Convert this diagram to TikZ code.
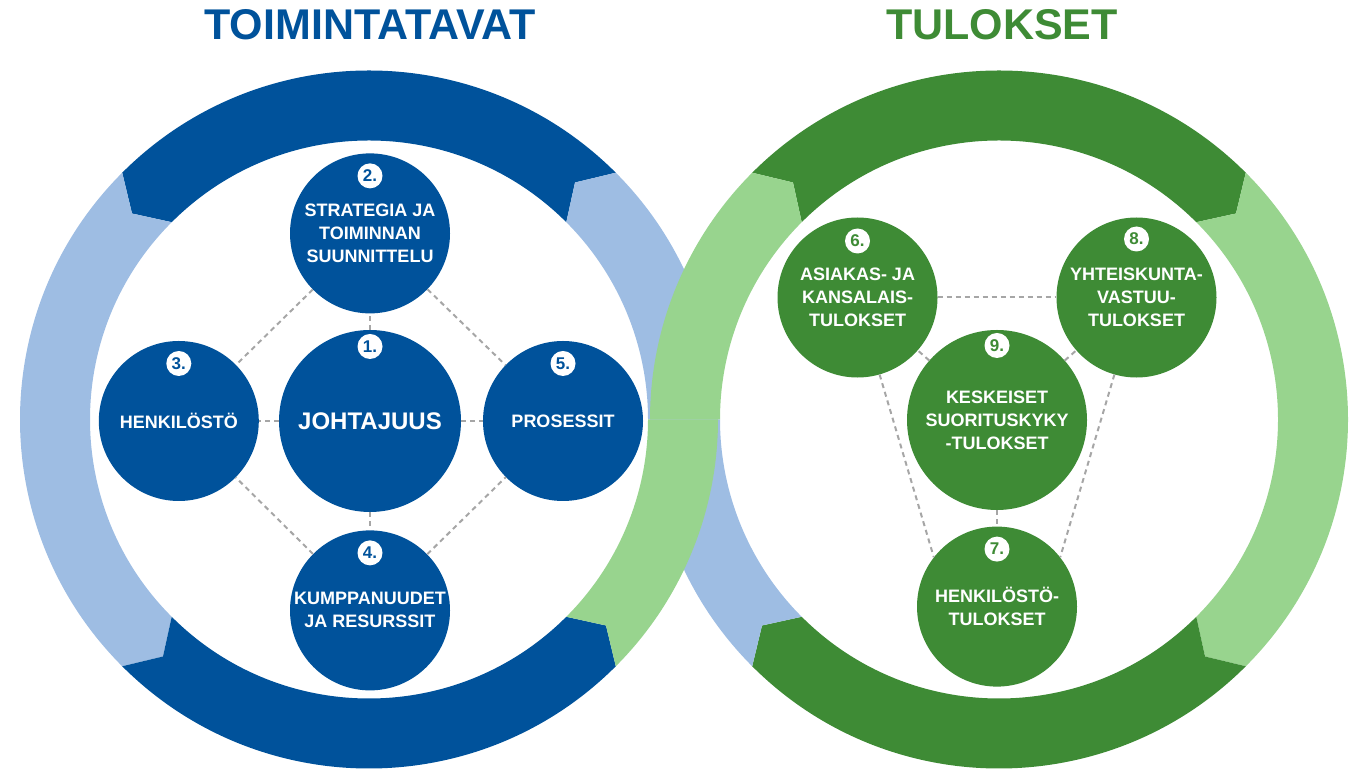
\documentclass[tikz,border=0pt]{standalone}
\usepackage{fontspec}
\setmainfont{Liberation Sans}
\usetikzlibrary{positioning,calc}

\definecolor{tvDark}{RGB}{0,82,155}
\definecolor{tvLight}{RGB}{158,189,227}
\definecolor{tuDark}{RGB}{62,139,53}
\definecolor{tuLight}{RGB}{152,212,142}
\definecolor{linkGray}{RGB}{166,166,166}

% one piece of a ring: centre, from angle, to angle, tip at from, tip at to, colour
\newcommand{\ringPiece}[6]{%
  \fill[#6] ($(#1)+(#2:\outerR)$) arc[start angle=#2, end angle=#3, radius=\outerR]
    -- ($(#1)+(#3+#5:\midR)$) -- ($(#1)+(#3:\innerR)$)
    arc[start angle=#3, end angle=#2, radius=\innerR]
    -- ($(#1)+(#2+#4:\midR)$) -- cycle;
}

\begin{document}
\begin{tikzpicture}[x=1pt,y=1pt]
  \useasboundingbox (0,0) rectangle (1357,770);
  \newdimen\gap
  \gap=18pt
  \def\outerR{349}
  \def\midR{314}
  \def\innerR{279}

  \tikzstyle{heading} = [
    % Just text!
    font=\fontsize{43}{48}\selectfont\bfseries
  ];
  \tikzstyle{practice} = [
    % The shape:
    circle, minimum size=160pt, inner sep=0pt,
    % The filling:
    fill=tvDark,
    % Font:
    text=white, align=center, font=\fontsize{18}{23}\selectfont\bfseries
  ];
  \tikzstyle{result} = [
    practice,
    % The filling:
    fill=tuDark
  ];
  \tikzstyle{badge} = [
    % The shape:
    circle, minimum size=25pt, inner sep=0pt,
    % The filling:
    fill=white,
    % Font:
    font=\fontsize{17}{17}\selectfont\bfseries
  ];
  \tikzstyle{link} = [
    draw=linkGray,
    line width=2pt,
    dash pattern=on 5pt off 4pt
  ];

  \coordinate (toimintaCenter) at (369,350.5);
  \coordinate (tuloksetCenter) at (999,350.5);

  % the two rings, arrows counterclockwise on the left, clockwise on the right
  \ringPiece{toimintaCenter}{45}{135}{4}{4}{tvDark}
  \ringPiece{toimintaCenter}{135}{225}{4}{4}{tvLight}
  \ringPiece{toimintaCenter}{225}{315}{4}{4}{tvDark}
  \ringPiece{tuloksetCenter}{45}{135}{-4}{-4}{tuDark}
  \ringPiece{tuloksetCenter}{-45}{45}{-4}{-4}{tuLight}
  \ringPiece{tuloksetCenter}{225}{315}{-4}{-4}{tuDark}
  % the crossing: light blue under, light green over
  \ringPiece{toimintaCenter}{0}{45}{0}{4}{tvLight}
  \ringPiece{tuloksetCenter}{180}{225}{0}{-4}{tvLight}
  \ringPiece{tuloksetCenter}{135}{180}{-4}{0}{tuLight}
  \ringPiece{toimintaCenter}{-45}{0}{4}{0}{tuLight}

  \node [heading, text=tvDark] (toimintatavat) at (370,745) {TOIMINTATAVAT};
  \node [heading, text=tuDark] (tulokset) at (1002,745) {TULOKSET};

  \node [practice, minimum size=182pt, font=\fontsize{24}{28}\selectfont\bfseries]
        (johtajuus) at (370,349) {JOHTAJUUS};
  \node [practice, above=0.9\gap of johtajuus] (strategia) {STRATEGIA JA\\TOIMINNAN\\SUUNNITTELU};
  \node [practice, left=1.1\gap of johtajuus] (henkilosto) {HENKILÖSTÖ};
  \node [practice, right=1.2\gap of johtajuus] (prosessit) {PROSESSIT};
  \node [practice, below=\gap of johtajuus] (kumppanuudet) {KUMPPANUUDET\\JA RESURSSIT};

  \node [result, minimum size=180pt] (keskeiset) at (997,350) {KESKEISET\\SUORITUSKYKY\\-TULOKSET};
  \node [result, above left=2pt and 19pt of keskeiset] (asiakas) {ASIAKAS- JA\\KANSALAIS-\\TULOKSET};
  \node [result, above right=2pt and 19pt of keskeiset] (yhteiskunta) {YHTEISKUNTA-\\VASTUU-\\TULOKSET};
  \node [result, below=0.9\gap of keskeiset] (henkilostoTulokset) {HENKILÖSTÖ-\\TULOKSET};

  \node [badge, text=tvDark, below=4pt of johtajuus.north] (b1) {1.};
  \node [badge, text=tvDark, below=10pt of strategia.north] (b2) {2.};
  \node [badge, text=tvDark, below=10pt of henkilosto.north] (b3) {3.};
  \node [badge, text=tvDark, below=10pt of kumppanuudet.north] (b4) {4.};
  \node [badge, text=tvDark, below=10pt of prosessit.north] (b5) {5.};
  \node [badge, text=tuDark, below=11pt of asiakas.north] (b6) {6.};
  \node [badge, text=tuDark, below=10pt of henkilostoTulokset.north] (b7) {7.};
  \node [badge, text=tuDark, below=9pt of yhteiskunta.north] (b8) {8.};
  \node [badge, text=tuDark, below=3pt of keskeiset.north] (b9) {9.};

  \path [link] (johtajuus) -- (strategia);
  \path [link] (johtajuus) -- (henkilosto);
  \path [link] (johtajuus) -- (prosessit);
  \path [link] (johtajuus) -- (kumppanuudet);
  \path [link] (strategia) -- (henkilosto);
  \path [link] (strategia) -- (prosessit);
  \path [link] (kumppanuudet) -- (henkilosto);
  \path [link] (kumppanuudet) -- (prosessit);

  \path [link] (asiakas) -- (yhteiskunta);
  \path [link] (keskeiset) -- (asiakas);
  \path [link] (keskeiset) -- (yhteiskunta);
  \path [link] (keskeiset) -- (henkilostoTulokset);
  \path [link] (asiakas.-74) -- (henkilostoTulokset.142);
  \path [link] (yhteiskunta.-106) -- (henkilostoTulokset.38);
\end{tikzpicture}
\end{document}
